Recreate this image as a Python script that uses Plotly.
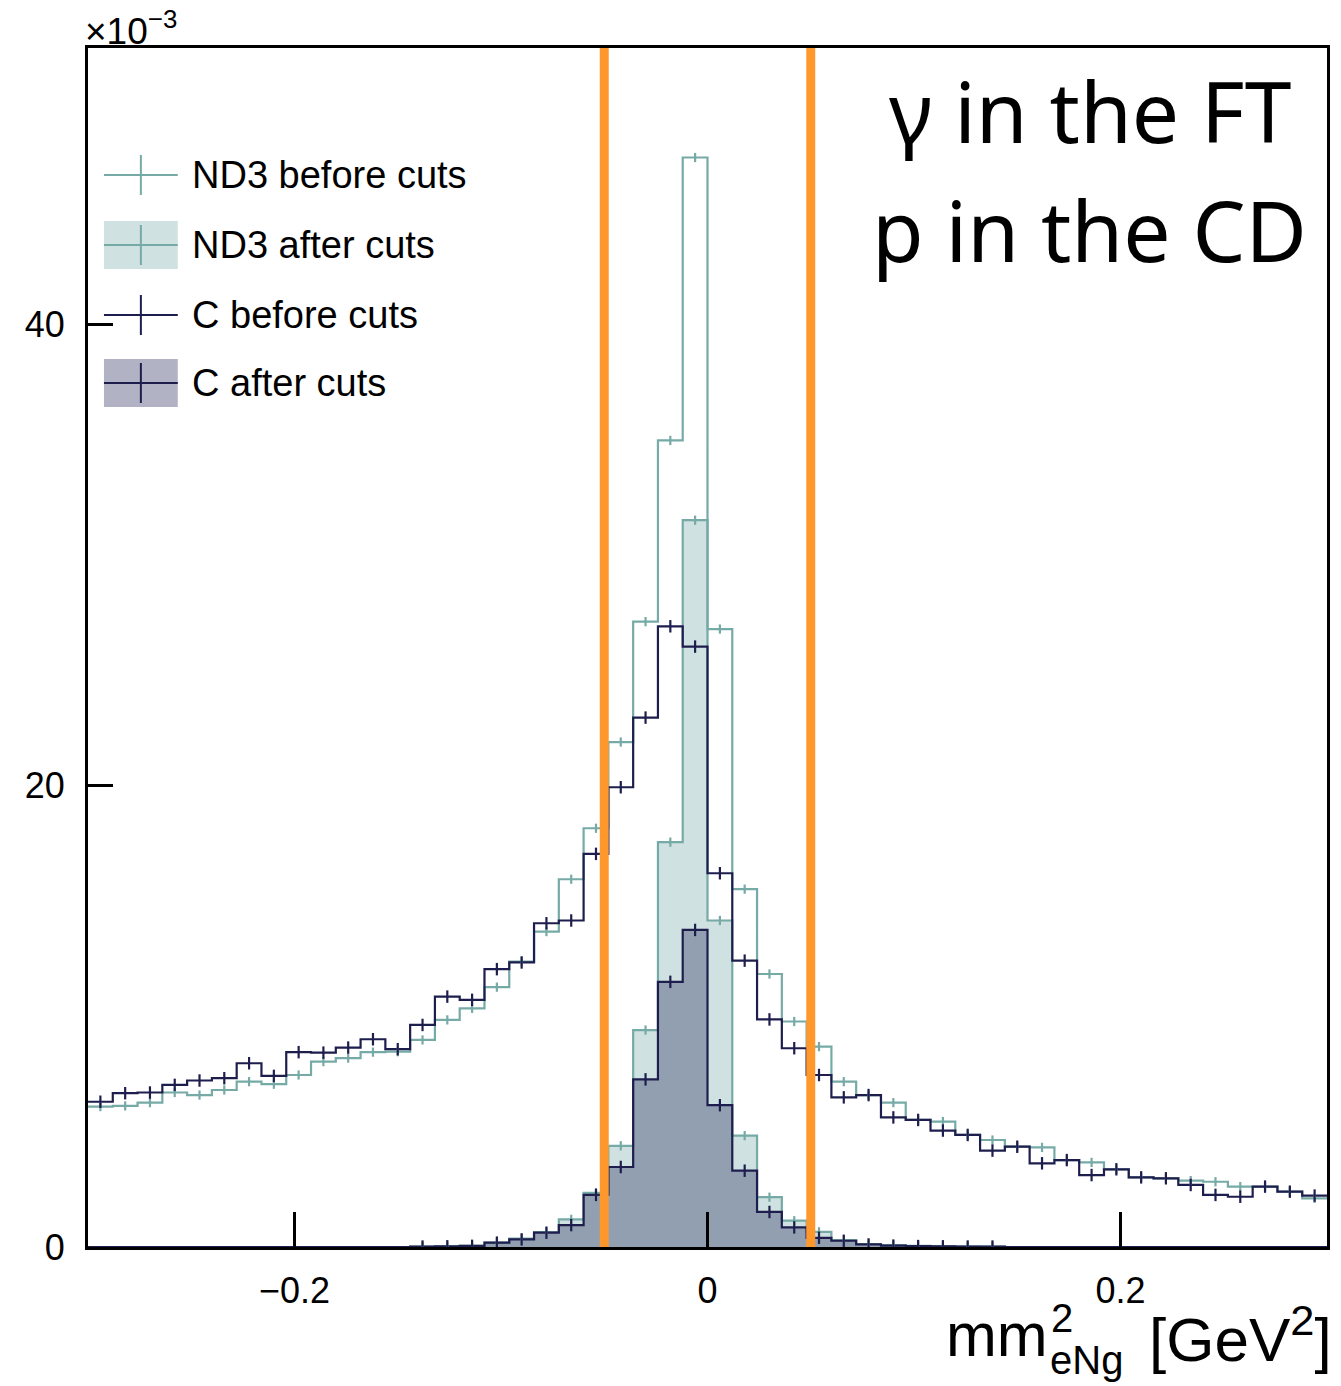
import numpy as np
import plotly.graph_objects as go

# ---------------- data ----------------
X_MIN, X_MAX, N_BINS = -0.3, 0.3, 50

nd3_before = [6.09, 6.12, 6.26, 6.70, 6.59, 6.81, 7.17, 7.06, 7.46, 8.04,
              8.19, 8.45, 8.47, 8.98, 9.85, 10.35, 11.27, 12.38, 13.68, 15.95,
              18.16, 21.90, 27.12, 34.98, 47.25, 26.80, 15.52, 11.84, 9.78, 8.69,
              7.17, 6.59, 6.26, 5.51, 5.44, 4.86, 4.64, 4.35, 4.32, 3.77,
              3.67, 3.37, 3.02, 2.98, 2.88, 2.83, 2.62, 2.62, 2.40, 2.11]

c_before = [6.30, 6.67, 6.70, 7.03, 7.22, 7.32, 7.97, 7.42, 8.45, 8.43,
            8.65, 9.01, 8.58, 9.63, 10.86, 10.72, 12.05, 12.34, 14.04, 14.16,
            17.05, 19.94, 22.96, 26.92, 26.04, 16.21, 12.42, 9.87, 8.62, 7.46,
            6.49, 6.59, 5.62, 5.51, 5.05, 4.86, 4.18, 4.35, 3.63, 3.77,
            3.12, 3.37, 3.02, 2.98, 2.69, 2.26, 2.18, 2.62, 2.40, 2.23]

nd3_after = [0, 0, 0, 0, 0, 0, 0, 0, 0, 0,
             0, 0, 0, 0.02, 0.03, 0.05, 0.19, 0.36, 0.65, 1.20,
             2.35, 4.39, 9.41, 17.56, 31.52, 14.16, 4.83, 2.16, 1.14, 0.66,
             0.30, 0.13, 0.08, 0.05, 0.04, 0.03, 0.02, 0, 0, 0,
             0, 0, 0, 0, 0, 0, 0, 0, 0, 0]

c_after = [0, 0, 0, 0, 0, 0, 0, 0, 0, 0,
           0, 0, 0, 0.02, 0.03, 0.05, 0.19, 0.33, 0.62, 0.95,
           2.26, 3.47, 7.27, 11.50, 13.75, 6.15, 3.31, 1.52, 0.85, 0.40,
           0.27, 0.11, 0.06, 0.04, 0.03, 0.02, 0.02, 0, 0, 0,
           0, 0, 0, 0, 0, 0, 0, 0, 0, 0]

# approximate half-length of the statistical error crosses (x10^-3)
err_nd3 = 0.2
err_c = 0.27

cut_lo, cut_hi = -0.05, 0.05

x_ticks = [-0.2, 0, 0.2]
x_ticktext = ["\u22120.2", "0", "0.2"]
y_ticks = [0, 20, 40]
y_ticktext = ["0", "20", "40"]

legend_labels = ["ND3 before cuts", "ND3 after cuts", "C before cuts", "C after cuts"]

# ---------------- style ----------------
TEAL = "rgb(118,170,166)"
TEAL_FILL = "rgba(118,170,166,0.35)"
NAVY = "rgb(30,30,78)"
NAVY_FILL = "rgba(40,42,92,0.36)"
ORANGE = "rgb(255,152,44)"
FONT = "Liberation Sans, Arial, sans-serif"

W, H = 1341, 1386
L, R, T, B = 88, 1330, 48, 1247   # plot area in pixels


def px(xp):
    return (xp - L) / (R - L)


def py(yp):
    return (B - yp) / (B - T)


edges = np.linspace(X_MIN, X_MAX, N_BINS + 1)
centers = 0.5 * (edges[:-1] + edges[1:])


def step_xy(vals):
    xs = list(edges[:-1]) + [edges[-1]]
    ys = list(vals) + [vals[-1]]
    return xs, ys


fig = go.Figure()


def add_hist(vals, color, fill=None, lw=2.2):
    xs, ys = step_xy(vals)
    fig.add_trace(go.Scatter(
        x=xs, y=ys, mode="lines", line=dict(color=color, width=lw, shape="hv"),
        fill="tozeroy" if fill else None, fillcolor=fill, showlegend=False,
        hoverinfo="skip"))


def add_err(vals, color, err):
    cx = [c for c, v in zip(centers, vals) if v > 0]
    cy = [v for v in vals if v > 0]
    fig.add_trace(go.Scatter(
        x=cx, y=cy, mode="markers", marker=dict(size=1, color=color, opacity=0),
        error_y=dict(type="constant", value=err, width=0, thickness=2.2, color=color),
        showlegend=False, hoverinfo="skip"))


add_hist(nd3_after, TEAL, TEAL_FILL)
add_hist(c_after, NAVY, NAVY_FILL)
add_hist(nd3_before, TEAL)
add_hist(c_before, NAVY)
add_err(nd3_after, TEAL, err_nd3)
add_err(nd3_before, TEAL, err_nd3)
add_err(c_after, NAVY, err_c)
add_err(c_before, NAVY, err_c)

shapes = []
for xc in (cut_lo, cut_hi):
    shapes.append(dict(type="line", xref="x", yref="paper", x0=xc, x1=xc, y0=0, y1=1,
                       line=dict(color=ORANGE, width=9), layer="above"))

# ---- custom legend ----
leg_rows = [175, 245, 315, 383]
leg_cols = [TEAL, TEAL, NAVY, NAVY]
leg_fill = [None, TEAL_FILL, None, NAVY_FILL]
annotations = []
for yc, col, fl, lab in zip(leg_rows, leg_cols, leg_fill, legend_labels):
    if fl:
        shapes.append(dict(type="rect", xref="paper", yref="paper",
                           x0=px(104), x1=px(178), y0=py(yc - 24), y1=py(yc + 24),
                           fillcolor=fl, line=dict(width=0), layer="above"))
    shapes.append(dict(type="line", xref="paper", yref="paper",
                       x0=px(104), x1=px(178), y0=py(yc), y1=py(yc),
                       line=dict(color=col, width=2), layer="above"))
    shapes.append(dict(type="line", xref="paper", yref="paper",
                       x0=px(141), x1=px(141), y0=py(yc - 20), y1=py(yc + 20),
                       line=dict(color=col, width=2), layer="above"))
    annotations.append(dict(xref="paper", yref="paper", x=px(190), y=py(yc),
                            xanchor="left", yanchor="middle", showarrow=False,
                            text=lab, font=dict(family=FONT, size=38, color="black")))

# ---- texts ----
annotations.append(dict(xref="paper", yref="paper", x=px(1092), y=py(110),
                        xanchor="center", yanchor="middle", showarrow=False,
                        text="\u03b3 in the FT",
                        font=dict(family="Noto Sans", size=84, color="black")))
annotations.append(dict(xref="paper", yref="paper", x=px(1092), y=py(230),
                        xanchor="center", yanchor="middle", showarrow=False,
                        text="p in the CD",
                        font=dict(family="Noto Sans", size=84, color="black")))
annotations.append(dict(xref="paper", yref="paper", x=px(83), y=py(28),
                        xanchor="left", yanchor="middle", showarrow=False,
                        text="\u00d710<sup>\u22123</sup>",
                        font=dict(family=FONT, size=37, color="black")))
# axis title mm^2_eNg [GeV^2]
annotations.append(dict(xref="paper", yref="paper", x=px(946), y=py(1335),
                        xanchor="left", yanchor="middle", showarrow=False,
                        text="mm", font=dict(family=FONT, size=61, color="black")))
annotations.append(dict(xref="paper", yref="paper", x=px(1051), y=py(1318),
                        xanchor="left", yanchor="middle", showarrow=False,
                        text="2", font=dict(family=FONT, size=40, color="black")))
annotations.append(dict(xref="paper", yref="paper", x=px(1050), y=py(1360),
                        xanchor="left", yanchor="middle", showarrow=False,
                        text="eNg", font=dict(family=FONT, size=40, color="black")))
annotations.append(dict(xref="paper", yref="paper", x=px(1150), y=py(1335),
                        xanchor="left", yanchor="middle", showarrow=False,
                        text="[GeV<sup>2</sup>]", font=dict(family=FONT, size=62, color="black")))

fig.update_layout(
    width=W, height=H,
    margin=dict(l=L, r=W - R, t=T, b=H - B, pad=0),
    plot_bgcolor="white", paper_bgcolor="white",
    shapes=shapes, annotations=annotations,
    xaxis=dict(range=[X_MIN, X_MAX], tickvals=x_ticks, ticktext=x_ticktext,
               ticks="inside", ticklen=35, tickwidth=3, tickcolor="black",
               showline=True, linecolor="black", linewidth=3, mirror=True,
               showgrid=False, zeroline=False, ticklabelstandoff=10,
               tickfont=dict(family=FONT, size=36, color="black")),
    yaxis=dict(range=[0, 52], tickvals=y_ticks, ticktext=y_ticktext,
               ticks="inside", ticklen=25, tickwidth=3, tickcolor="black",
               showline=True, linecolor="black", linewidth=3, mirror=True,
               showgrid=False, zeroline=False, ticklabelstandoff=13,
               tickfont=dict(family=FONT, size=36, color="black")),
)

fig.write_html("out.html")
